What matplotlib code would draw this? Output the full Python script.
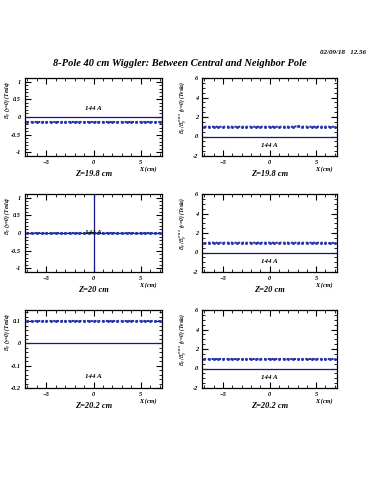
import numpy as np
import matplotlib
matplotlib.use("Agg")
import matplotlib.pyplot as plt
from matplotlib.ticker import MultipleLocator, FormatStrFormatter

# x positions of the measured points (cm)
x_pts = [-7.0, -6.5, -6.0, -5.5, -5.0, -4.5, -4.0, -3.5, -3.0, -2.5, -2.0, -1.5, -1.0, -0.5, 0.0,
         0.5, 1.0, 1.5, 2.0, 2.5, 3.0, 3.5, 4.0, 4.5, 5.0, 5.5, 6.0, 6.5, 7.0]

# left column: By(y=0) in Tesla
by_198 = [-0.14, -0.14, -0.14, -0.14, -0.14, -0.14, -0.14, -0.14, -0.14, -0.14, -0.14, -0.14, -0.14, -0.14, -0.14,
          -0.14, -0.14, -0.14, -0.14, -0.14, -0.14, -0.14, -0.14, -0.14, -0.14, -0.14, -0.14, -0.14, -0.14]
by_200 = [-0.01, -0.01, -0.01, -0.01, -0.01, -0.01, -0.01, -0.01, -0.01, -0.01, -0.01, -0.01, -0.01, -0.01, -0.01,
          -0.01, -0.01, -0.01, -0.01, -0.01, -0.01, -0.01, -0.01, -0.01, -0.01, -0.01, -0.01, -0.01, -0.01]
by_202 = [0.1, 0.1, 0.1, 0.1, 0.1, 0.1, 0.1, 0.1, 0.1, 0.1, 0.1, 0.1, 0.1, 0.1, 0.1,
          0.1, 0.1, 0.1, 0.1, 0.1, 0.1, 0.1, 0.1, 0.1, 0.1, 0.1, 0.1, 0.1, 0.1]

# right column: By/By_max
ratio_198 = [1.0, 1.0, 1.0, 1.0, 1.0, 1.0, 1.0, 1.0, 1.0, 1.0, 1.0, 1.0, 1.0, 1.0, 1.0,
             1.0, 1.0, 1.0, 1.0, 1.0, 1.05, 1.0, 1.0, 1.0, 1.0, 1.0, 1.0, 1.0, 1.0]
ratio_200 = [0.95, 1.0, 1.0, 1.0, 1.0, 1.0, 1.0, 1.0, 1.0, 1.0, 1.0, 1.0, 1.0, 1.0, 1.0,
             1.0, 1.0, 1.0, 1.0, 1.0, 1.0, 1.0, 1.0, 1.0, 1.0, 1.0, 1.0, 0.95, 1.0]
ratio_202 = [1.0, 1.0, 1.0, 1.0, 1.0, 1.0, 1.0, 1.0, 1.0, 1.0, 1.0, 1.0, 1.0, 1.0, 1.0,
             1.0, 1.0, 1.0, 1.0, 1.0, 1.0, 1.0, 1.0, 1.0, 1.0, 1.0, 1.0, 1.0, 1.0]

z_labels = ["Z=19.8 cm", "Z=20 cm", "Z=20.2 cm"]
left_data = [by_198, by_200, by_202]
right_data = [ratio_198, ratio_200, ratio_202]
left_ylims = [(-1.1, 1.1), (-1.1, 1.1), (-0.2, 0.15)]
left_major = [0.5, 0.5, 0.1]
left_minor = [0.1, 0.1, 0.02]
left_label_y = [0.25, 0.0, -0.15]
right_ylim = (-2, 6)
right_label_y = -0.9
current = "144 A"

line_col = "#15158a"
dot_col = "#2233aa"
fnt = dict(family="Liberation Serif", weight="bold", style="italic")

fig = plt.figure(figsize=(3.75, 5), dpi=100)

fig.text(0.975, 0.896, "02/09/18   12.56", ha="right", va="center", fontsize=5, **fnt)
fig.text(0.48, 0.872, "8-Pole 40 cm Wiggler: Between Central and Neighbor Pole",
         ha="center", va="center", fontsize=7.5, **fnt)

col_x = [0.067, 0.539]
col_w = [0.365, 0.36]
row_y = [0.688, 0.456, 0.224]
row_h = 0.156


def style_axes(ax, major, minor):
    ax.set_xlim(-7.25, 7.25)
    ax.xaxis.set_major_locator(MultipleLocator(5))
    ax.xaxis.set_minor_locator(MultipleLocator(1))
    ax.yaxis.set_major_locator(MultipleLocator(major))
    ax.yaxis.set_minor_locator(MultipleLocator(minor))
    ax.yaxis.set_major_formatter(FormatStrFormatter("%g"))
    ax.tick_params(which="both", direction="in", top=True, right=True, labelsize=4.5, pad=3)
    ax.tick_params(which="major", length=4, width=0.8)
    ax.tick_params(which="minor", length=2, width=0.6)
    for lab in ax.get_xticklabels() + ax.get_yticklabels():
        lab.set_fontfamily("Liberation Serif")
        lab.set_fontweight("bold")
        lab.set_fontstyle("italic")
    for sp in ax.spines.values():
        sp.set_linewidth(0.9)
    ax.set_xlabel("X (cm)", fontsize=4.5, **fnt)
    ax.xaxis.set_label_coords(0.9, -0.13)


def set_ylab(ax, text, xc, yc):
    ax.set_ylabel(text, fontsize=4, **fnt)
    ax.yaxis.label.set_va("center")
    ax.yaxis.set_label_coords(xc, yc)


for r in range(3):
    # left column
    ax = fig.add_axes([col_x[0], row_y[r], col_w[0], row_h])
    ax.set_ylim(*left_ylims[r])
    ax.axhline(0, color=line_col, lw=0.9)
    if r == 1:
        ax.axvline(0, color=line_col, lw=0.9)
    ax.plot(x_pts, left_data[r], ls=(0, (1.0, 0.8)), lw=1.5, color=dot_col,
            marker="s", ms=1.0, mec=dot_col)
    ax.text(0, left_label_y[r], current, ha="center", va="center", fontsize=5, **fnt)
    style_axes(ax, left_major[r], left_minor[r])
    set_ylab(ax, r"$B_y$ (y=0) (Tesla)", -0.13, 0.72)
    fig.text(col_x[0] + col_w[0] / 2, row_y[r] - 0.035, z_labels[r], ha="center",
             va="center", fontsize=6, **fnt)

    # right column
    ax = fig.add_axes([col_x[1], row_y[r], col_w[1], row_h])
    ax.set_ylim(*right_ylim)
    ax.axhline(0, color=line_col, lw=0.9)
    ax.plot(x_pts, right_data[r], ls=(0, (1.0, 0.8)), lw=1.5, color=dot_col,
            marker="s", ms=1.0, mec=dot_col)
    ax.text(0, right_label_y, current, ha="center", va="center", fontsize=5, **fnt)
    style_axes(ax, 2, 0.5)
    set_ylab(ax, r"$B_y/B_y^{max}$ (y=0) (Tesla)", -0.14, 0.62)
    fig.text(col_x[1] + col_w[1] / 2, row_y[r] - 0.035, z_labels[r], ha="center",
             va="center", fontsize=6, **fnt)

fig.savefig("out.png", dpi=100)
